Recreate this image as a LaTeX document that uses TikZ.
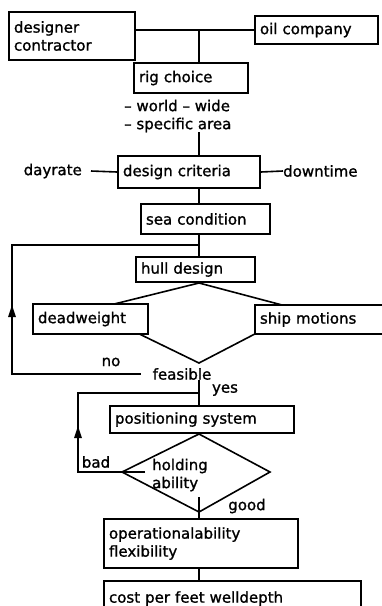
\documentclass[tikz,border=0pt]{standalone}
\usepackage{xcolor}
\usepackage{fontspec}
\setmainfont{DejaVu Sans}
\newfontfamily\chartfont[Ligatures=TeX, FakeBold=1.2]{DejaVu Sans}
\usepackage{tikz}

\begin{document}
\begin{tikzpicture}[x=1pt,y=-1pt,
	box/.style={draw=black, line width=2pt, fill=white, anchor=north west, align=left, inner xsep=5pt, inner ysep=0pt},
	link/.style={draw=black, line width=1.6pt}]
	\tikzstyle{every node}+=[inner sep=0pt, font=\chartfont\fontsize{15}{18}\selectfont]
	\useasboundingbox (0,0) rectangle (381,606);
	% top of the chart
	\node [box, text width=116pt, minimum height=48pt] (designer) at (8,11) {designer\\contractor};
	\node [box, text width=113pt, minimum height=28pt] (oil) at (254,15) {oil company};
	\node [box, text width=104pt, minimum height=30pt] (rig) at (133,62) {rig choice};
	\node [anchor=west, align=left] (area) at (124,116) {-- world -- wide\\-- specific area};
	\coordinate (join) at (199,29);
	\draw [link] (designer.east |- oil.west) -- (oil.west);
	\draw [link] (join) -- (join |- rig.north);
	% criteria
	\node [box, text width=132pt, minimum height=32pt] (crit) at (117,155) {design criteria};
	\node [anchor=east] (dayrate) at (82,171) {dayrate};
	\node [anchor=west] (downtime) at (283,171) {downtime};
	\draw [link] ([xshift=9pt]dayrate.east) -- (crit.west);
	\draw [link] (crit.east) -- (downtime.west);
	\draw [link] (area.south -| join) -- (crit.north -| join);
	\node [box, text width=119pt, minimum height=30pt] (sea) at (140,203) {sea condition};
	\draw [link] (crit.south -| join) -- (sea.north -| join);
	\node [box, text width=109pt, minimum height=25pt] (hull) at (135,256) {hull design};
	\draw [link] (sea.south -| join) -- (hull.north -| join);
	% first check
	\coordinate (d1left) at (90,310);
	\coordinate (d1bot) at (199,363);
	\coordinate (d1right) at (301,310);
	\draw [link] (hull.south -| join) -- (d1left) -- (d1bot) -- (d1right) -- cycle;
	\node [box, text width=105pt, minimum height=30pt] (dead) at (32,303) {deadweight};
	\node [box, text width=120pt, minimum height=29pt] (ship) at (254,304) {ship motions};
	\node [inner xsep=12pt] (feasible) at (182,374) {feasible};
	\node (no) at (111,362) {no};
	\node (yes) at (225,390) {yes};
	\coordinate (loopno) at (12,245);
	\draw [link] (feasible.west) -| (loopno) -- (loopno -| join);
	\fill [black] (12,305) -- (8,317) -- (16,317);
	% positioning
	\node [box, text width=174pt, minimum height=27pt] (pos) at (109,405) {positioning system};
	\draw [link] (feasible.south -| join) -- (pos.north -| join);
	\coordinate (d2left) at (122,472);
	\coordinate (d2bot) at (199,512);
	\coordinate (d2right) at (270,472);
	\draw [link] (pos.south -| join) -- (d2left) -- (d2bot) -- (d2right) -- cycle;
	\draw [link] (d2bot) -- ++(0,-15);
	\node [anchor=west, align=left] (holding) at (152,475) {holding\\ability};
	\node (bad) at (96,462) {bad};
	\node (good) at (247,506) {good};
	\coordinate (badend) at (145,472);
	\coordinate (loopbad) at (78,393);
	\draw [link] (badend) -| (loopbad) -- (loopbad -| join);
	\fill [black] (78,426) -- (74,438) -- (82,438);
	% end of the chart
	\node [box, text width=184pt, minimum height=49pt] (oper) at (103,518) {operationalability\\flexibility};
	\draw [link] (d2bot) -- (oper.north -| join);
	\node [box, text width=247pt, minimum height=35pt] (cost) at (103,580) {cost per feet welldepth};
	\draw [link] (oper.south -| join) -- (cost.north -| join);
	\end{tikzpicture}
\end{document}
